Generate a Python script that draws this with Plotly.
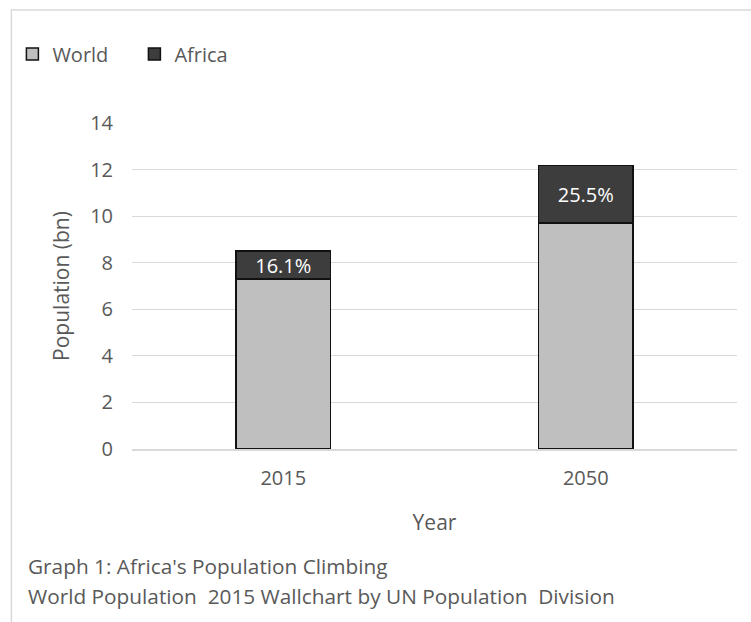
import plotly.graph_objects as go

years = ["2015", "2050"]
world = [7.3, 9.7]
africa = [1.2, 2.48]
africa_labels = ["16.1%", "25.5%"]
y_ticks = [0, 2, 4, 6, 8, 10, 12, 14]
caption_lines = ["Graph 1: Africa's Population Climbing",
                 "World Population  2015 Wallchart by UN Population  Division"]

FONT = "Open Sans"
W, H = 751, 622
L, R, T, B = 130, 14, 123, 173
pw, ph = W - L - R, H - T - B

def px_x(p):
    return (p - L) / pw

def px_y(p):
    return (H - B - p) / ph

fig = go.Figure()
fig.add_trace(go.Bar(
    x=years, y=world, name="World",
    marker=dict(color="#bfbfbf", line=dict(color="#111111", width=1.5)),
))
fig.add_trace(go.Bar(
    x=years, y=africa, name="Africa",
    marker=dict(color="#3d3d3d", line=dict(color="#111111", width=1.5)),
    text=africa_labels, textposition="inside", insidetextanchor="middle",
    textfont=dict(color="white", size=20, family=FONT),
    textangle=0, constraintext="none",
))

fig.update_layout(
    width=W, height=H,
    margin=dict(l=L, r=R, t=T, b=B),
    barmode="stack", bargap=0.686,
    plot_bgcolor="white", paper_bgcolor="white",
    font=dict(family=FONT, size=20, color="#595959"),
    showlegend=True,
    legend=dict(orientation="h", x=px_x(10), y=px_y(54), xanchor="left", yanchor="middle",
                font=dict(size=20, color="#595959"), itemwidth=30,
                entrywidth=77, entrywidthmode="pixels",
                traceorder="normal", bgcolor="rgba(0,0,0,0)"),
    xaxis=dict(title=dict(text="Year", font=dict(size=21, color="#595959"), standoff=26),
               showline=True, linecolor="#d9d9d9", linewidth=1.5, ticks="",
               ticklabelstandoff=10,
               tickfont=dict(size=20, color="#595959")),
    yaxis=dict(title=dict(text="Population (bn)", font=dict(size=21, color="#595959"), standoff=14),
               range=[0, 14], tickvals=y_ticks, showgrid=True, gridcolor="#d9d9d9",
               gridwidth=1.2, zeroline=False, ticks="", ticklabelstandoff=18,
               tickfont=dict(size=20, color="#595959")),
)

for i, line in enumerate(caption_lines):
    fig.add_annotation(text=line, xref="paper", yref="paper",
                       x=px_x(24), y=px_y(566 + 30 * i), xanchor="left", yanchor="middle",
                       showarrow=False, font=dict(size=20.8, color="#595959", family=FONT))

fig.add_shape(type="rect", xref="paper", yref="paper",
              x0=px_x(9), x1=px_x(W + 20), y0=px_y(H + 20), y1=px_y(10),
              line=dict(color="#d9d9d9", width=1.5), fillcolor="rgba(0,0,0,0)", layer="below")

fig.write_html("out.html")
